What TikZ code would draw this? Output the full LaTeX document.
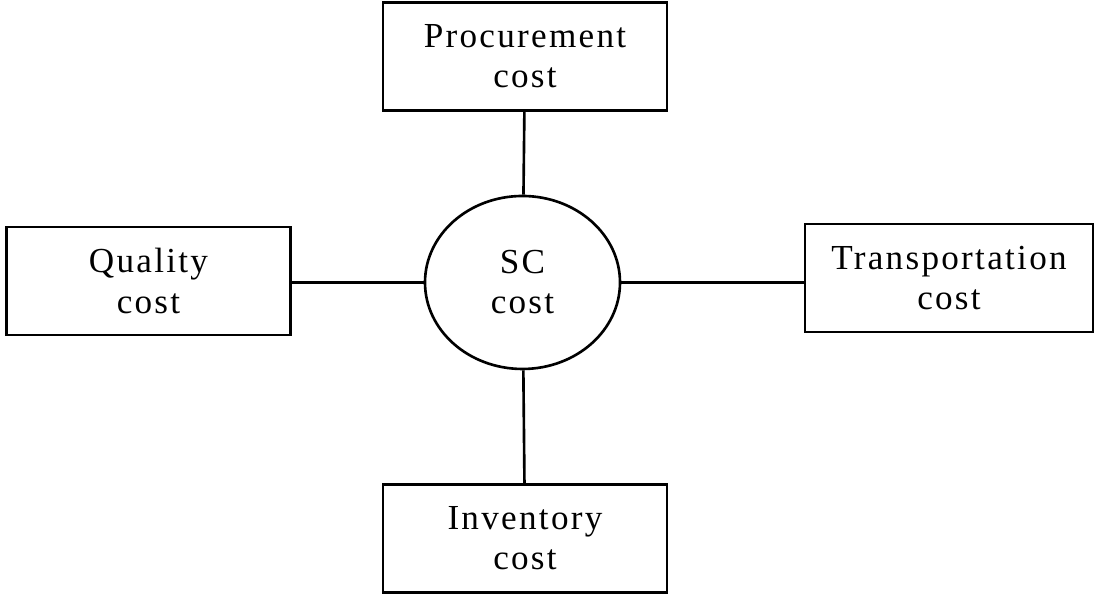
\documentclass[tikz,border=0pt]{standalone}
\usepackage{fontspec}
\setmainfont[LetterSpace=6.5]{Liberation Serif}
\usepackage{tikz}
\usetikzlibrary{positioning,shapes}

\begin{document}
\begin{tikzpicture}[line width=0.75pt,
  font=\fontsize{10}{11.4}\selectfont,
  cost/.style={draw,rectangle,align=center,minimum width=2.84cm,minimum height=1.08cm,inner sep=0pt},
  hub/.style={draw,ellipse,align=center,minimum width=1.95cm,minimum height=1.73cm,inner sep=0pt}]
  \useasboundingbox (0,0) rectangle (10.99,-5.96);
  \node[hub] (SC) at (5.225,-2.825) {SC\\cost};
  \node[cost] (P) at (5.25,-0.565) {Procurement\\cost};
  \node[cost] (Q) at (1.485,-2.81) {Quality\\cost};
  \node[cost,minimum width=2.88cm] (T) at (9.49,-2.78) {Transportation\\cost};
  \node[cost] (I) at (5.25,-5.385) {Inventory\\cost};
  \draw (SC) -- (P);
  \draw (SC) -- (Q.east |- SC);
  \draw (SC) -- (T.west |- SC);
  \draw (SC) -- (I);
\end{tikzpicture}
\end{document}
